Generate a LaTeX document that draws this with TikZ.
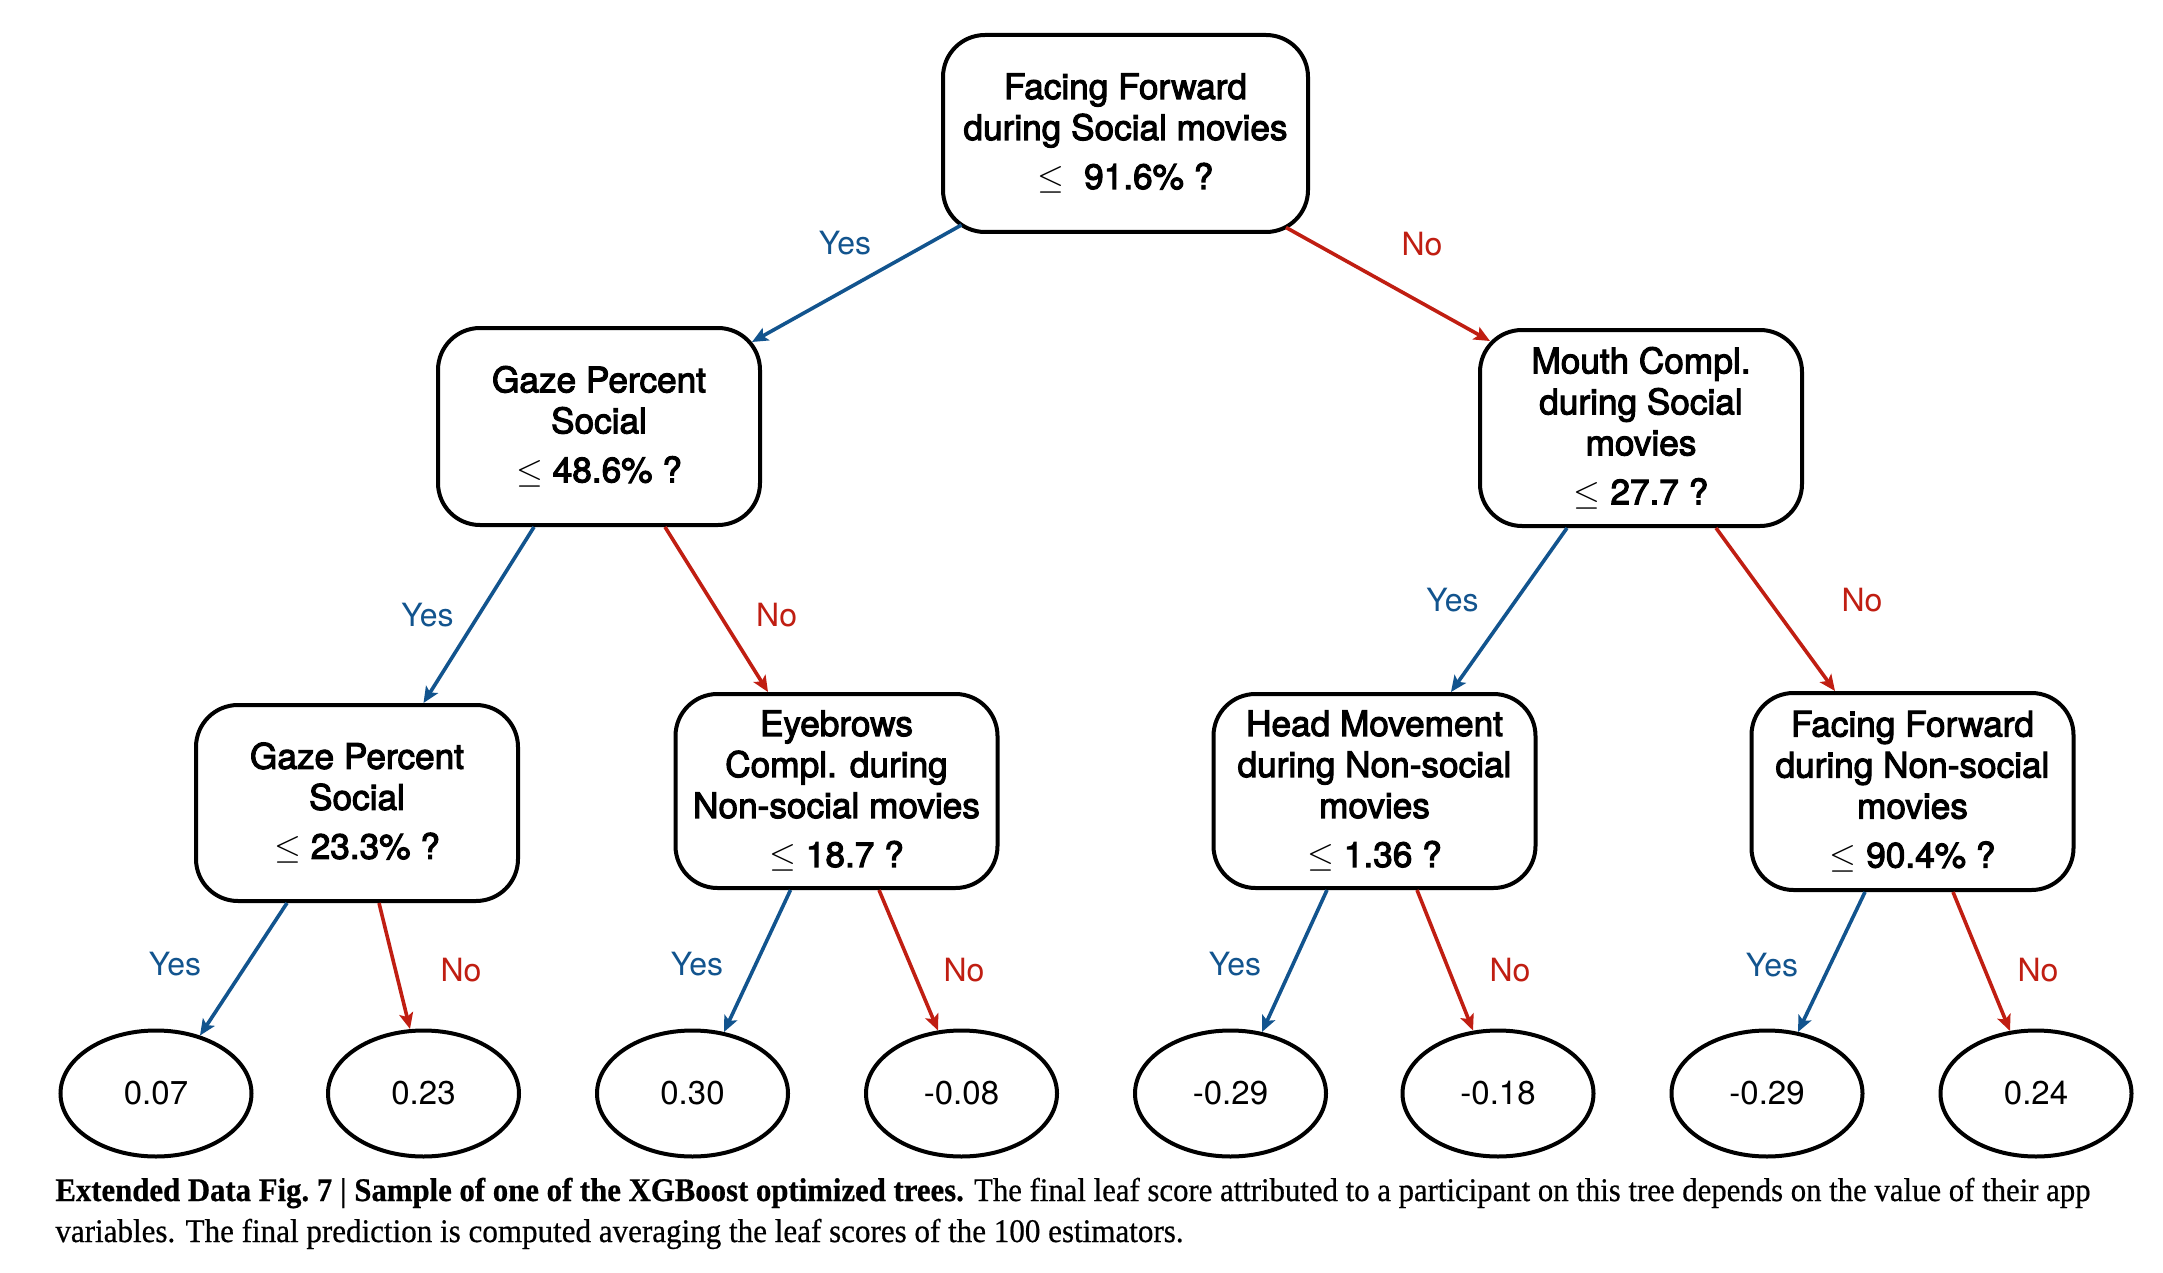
\documentclass[tikz,border=0pt]{standalone}
\usepackage{fontspec}
\usetikzlibrary{arrows.meta,shapes.geometric,calc}
\newfontfamily\hv{TeX Gyre Heros}
\newfontfamily\hvb{TeX Gyre Heros}[FakeBold=3]
\newfontfamily\capserif{Liberation Serif}[FakeBold=0.6]
\definecolor{yesblue}{RGB}{18,84,142}
\definecolor{nored}{RGB}{192,30,18}
\begin{document}
\begin{tikzpicture}[x=0.5pt,y=-0.5pt,
  box/.style={draw,line width=2pt,rounded corners=21pt,minimum width=161pt,minimum height=98pt,
    align=center,inner sep=2pt,font=\hvb\fontsize{17.6}{20.5}\selectfont},
  leaf/.style={draw,ellipse,line width=2pt,minimum width=95.5pt,minimum height=63pt,inner sep=0pt,
    font=\hv\fontsize{16.5}{19}\selectfont},
  tipstyle/.style={-{Stealth[length=8pt,width=7pt,inset=1.8pt]}},
  yesarr/.style={draw=yesblue,line width=1.8pt,tipstyle},
  noarr/.style={draw=nored,line width=1.8pt,tipstyle},
  yeslab/.style={text=yesblue,inner sep=0pt,font=\hv\fontsize{16}{19}\selectfont},
  nolab/.style={text=nored,inner sep=0pt,font=\hv\fontsize{16}{19}\selectfont}]
\useasboundingbox (0,0) rectangle (2163,1273);
\fill[white] (0,0) rectangle (2163,1273);

% decision nodes
\node[box,minimum width=182.5pt,minimum height=98.5pt] (root) at (1125.5,133.5)
  {Facing Forward\\during Social movies\\[4pt]$\leq$\ \ 91.6\% ?};
\node[box,minimum height=98.5pt] (g2) at (599,426.5)
  {Gaze Percent\\Social\\[4pt]$\leq$\ 48.6\% ?};
\node[box] (m2) at (1641,428)
  {Mouth Compl.\\during Social\\movies\\[4pt]$\leq$\ 27.7 ?};
\node[box] (g3) at (357,803)
  {Gaze Percent\\Social\\[4pt]$\leq$\ 23.3\% ?};
\node[box,minimum height=97pt] (e3) at (836.5,791)
  {Eyebrows\\Compl. during\\Non-social movies\\[4pt]$\leq$\ 18.7 ?};
\node[box,minimum height=97pt] (h3) at (1374.5,791)
  {Head Movement\\during Non-social\\movies\\[4pt]$\leq$\ 1.36 ?};
\node[box,minimum height=98.5pt] (f3) at (1912.5,791.5)
  {Facing Forward\\during Non-social\\movies\\[4pt]$\leq$\ 90.4\% ?};

% leaves
\node[leaf] (l1) at (156,1093.5) {0.07};
\node[leaf] (l2) at (423.5,1093.5) {0.23};
\node[leaf] (l3) at (692.5,1093.5) {0.30};
\node[leaf] (l4) at (961.5,1093.5) {-0.08};
\node[leaf] (l5) at (1230.5,1093.5) {-0.29};
\node[leaf] (l6) at (1498,1093.5) {-0.18};
\node[leaf] (l7) at (1767,1093.5) {-0.29};
\node[leaf] (l8) at (2036,1093.5) {0.24};

% connectors level 1
\draw[yesarr] ($(root.center)+(-164,91.5)$) -- ($(g2.center)+(153,-84.5)$);
\draw[noarr]  ($(root.center)+(160.5,94)$) -- ($(m2.center)+(-151,-87)$);
% level 2
\draw[yesarr] ($(g2.south)+(-65,0)$) -- ($(g3.north)+(66.5,0)$);
\draw[noarr]  ($(g2.south)+(66,0)$) -- ($(e3.north)+(-68.5,0)$);
\draw[yesarr] ($(m2.south)+(-74,0)$) -- ($(h3.north)+(76.5,0)$);
\draw[noarr]  ($(m2.south)+(75,0)$) -- ($(f3.north)+(-77.5,0)$);
% level 3
\draw[yesarr] ($(g3.south)+(-70,0)$) -- ($(l1.center)+(44,-58)$);
\draw[noarr]  ($(g3.south)+(22,0)$) -- ($(l2.center)+(-13.5,-64.5)$);
\draw[yesarr] ($(e3.south)+(-46,0)$) -- ($(l3.center)+(31.5,-61.5)$);
\draw[noarr]  ($(e3.south)+(42.5,0)$) -- ($(l4.center)+(-23.5,-63)$);
\draw[yesarr] ($(h3.south)+(-47.5,0)$) -- ($(l5.center)+(31.5,-61.5)$);
\draw[noarr]  ($(h3.south)+(42.5,0)$) -- ($(l6.center)+(-25,-63)$);
\draw[yesarr] ($(f3.south)+(-47.5,0)$) -- ($(l7.center)+(31,-61.5)$);
\draw[noarr]  ($(f3.south)+(40.5,0)$) -- ($(l8.center)+(-26,-62.5)$);

% branch labels
\node[yeslab] (y1) at (845,243) {Yes};
\node[nolab]  (n1) at (1422,244) {No};
\node[yeslab] (y2) at (427.6,615) {Yes};
\node[nolab]  (n2) at (776.6,615) {No};
\node[yeslab] (y3) at (1452.6,600) {Yes};
\node[nolab]  (n3) at (1862,600) {No};
\node[yeslab] (y4) at (175,964) {Yes};
\node[nolab]  (n4) at (461,970) {No};
\node[yeslab] (y5) at (697,964) {Yes};
\node[nolab]  (n5) at (964,970) {No};
\node[yeslab] (y6) at (1235,964) {Yes};
\node[nolab]  (n6) at (1510,970) {No};
\node[yeslab] (y7) at (1772,965) {Yes};
\node[nolab]  (n7) at (2038,970) {No};

% caption
\node[anchor=base west,inner sep=0pt] (cap1) at (55,1201)
  {\resizebox{1017.5pt}{\height}{\capserif\fontsize{16.5}{19}\selectfont\textbf{Extended Data Fig.\ 7 | Sample of one of the XGBoost optimized trees.} The final leaf score attributed to a participant on this tree depends on the value of their app}};
\node[anchor=base west,inner sep=0pt] (cap2) at (55,1242)
  {\resizebox{564pt}{\height}{\capserif\fontsize{16.5}{19}\selectfont variables. The final prediction is computed averaging the leaf scores of the 100 estimators.}};
\end{tikzpicture}
\end{document}
